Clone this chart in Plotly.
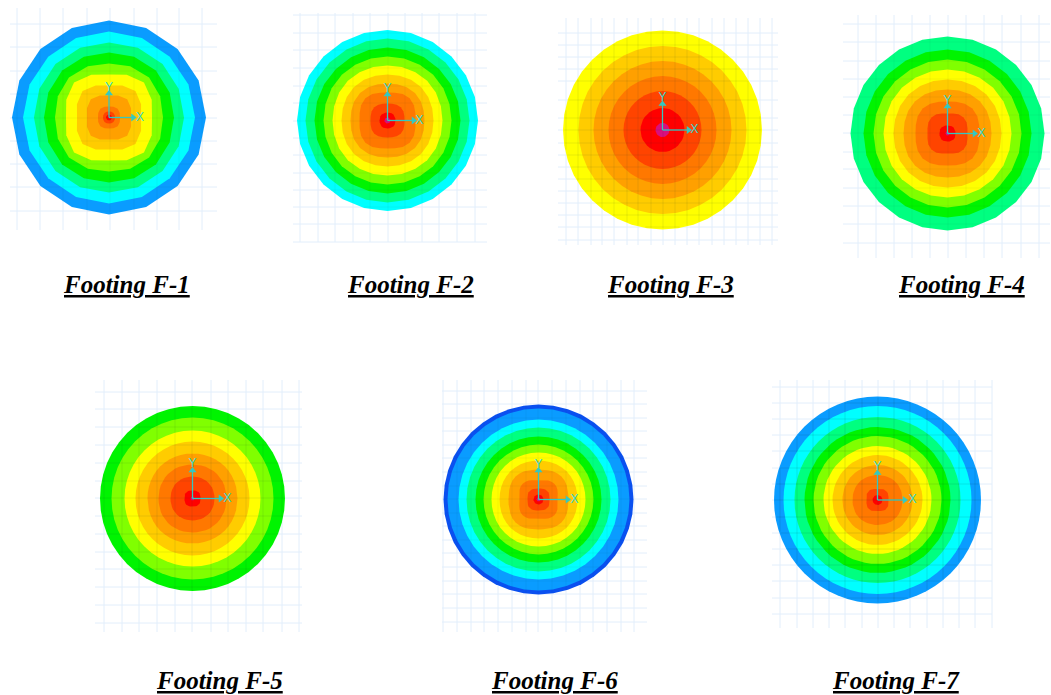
import math
import plotly.graph_objects as go

# ---- data ----
FOOTINGS = ["Footing F-1", "Footing F-2", "Footing F-3", "Footing F-4",
            "Footing F-5", "Footing F-6", "Footing F-7"]

# contour band radii, outermost first
F1_RADII = [97, 86, 75, 65, 54, 43, 32, 22, 11, 6, 3]
F2_RADII = [90.5, 82, 73, 64, 55, 46, 37, 28, 17, 8, 3]
F3_RADII = [99.5, 84, 69, 54, 39, 22, 7]
F4_RADII = [97, 84, 74, 64, 54, 44, 32, 20, 8, 2]
F5_RADII = [92.5, 81, 68, 57, 45, 34, 22, 8, 2]
F6_RADII = [95, 91, 80, 72, 63, 55, 47, 39, 30, 19, 11, 5, 2]
F7_RADII = [103.5, 94, 83, 73, 64, 54, 45, 35, 25, 11, 5]

# how far each band bulges toward the corners
F1_SQUARE = [0, 0, .01, .02, .05, .15, .17, .17, .12, .05, 0]
F2_SQUARE = [0, 0, 0, .01, .02, .03, .05, .12, .10, .05, 0]
F3_SQUARE = [0, 0, 0, 0, 0, 0, 0]
F4_SQUARE = [0, 0, 0, .01, .02, .04, .10, .14, .08, 0]
F5_SQUARE = [0, 0, 0, 0, .01, .02, .02, .10, 0]
F6_SQUARE = [0, 0, 0, 0, 0, 0, .01, .02, .08, .18, .12, 0, 0]
F7_SQUARE = [0, 0, 0, 0, 0, 0, 0, .01, .02, .14, 0]

# colours of the bands
BLUE, CYAN, SPRING, GREEN, LIME = "#0a9cff", "#00ffff", "#00ff80", "#00f400", "#80ff00"
YELLOW, GOLD, ORANGE, DARKOR, REDOR, RED, MAG, DEEP = (
    "#ffff00", "#ffcc00", "#ffa000", "#ff7800", "#ff4400", "#ff0000", "#d8107e", "#0a50f0")
F1_COLORS = [BLUE, CYAN, SPRING, GREEN, LIME, YELLOW, GOLD, ORANGE, DARKOR, REDOR, RED]
F2_COLORS = [CYAN, SPRING, GREEN, LIME, YELLOW, GOLD, ORANGE, DARKOR, REDOR, RED, MAG]
F3_COLORS = [YELLOW, GOLD, ORANGE, DARKOR, REDOR, RED, MAG]
F4_COLORS = [SPRING, GREEN, LIME, YELLOW, GOLD, ORANGE, DARKOR, REDOR, RED, MAG]
F5_COLORS = [GREEN, LIME, YELLOW, GOLD, ORANGE, DARKOR, REDOR, RED, MAG]
F6_COLORS = [DEEP, BLUE, CYAN, SPRING, GREEN, LIME, YELLOW, GOLD, ORANGE, DARKOR, REDOR, RED, MAG]
F7_COLORS = [BLUE, CYAN, SPRING, GREEN, LIME, YELLOW, GOLD, ORANGE, DARKOR, REDOR, RED]

# mesh lines
F1_V = [17, 40, 63, 87, 110, 134, 157, 179, 202]
F1_H = [24, 47, 71, 94, 118, 141, 164, 187, 211]
F2_V = [300, 318, 335, 353, 370, 388, 405, 422, 439, 457, 475]
F2_H = [15, 33, 50, 68, 86, 103, 121, 138, 155, 173, 190, 207, 224, 242]
F3_V = [566, 578, 591, 602, 614, 627, 638, 651, 663, 675, 687, 699, 712, 724, 736, 748, 760, 772]
F3_H = [33, 45, 57, 69, 81, 100, 118, 130, 143, 155, 167, 179, 191, 203, 215, 227, 240]
F4_V = [858, 876, 894, 912, 930, 948, 966, 984, 1002, 1021, 1039]
F4_H = [24, 42, 61, 79, 97, 115, 133, 152, 169, 188, 206, 224, 243]
F5_V = [104, 122, 139, 157, 175, 192, 211, 228, 246, 263, 282, 299]
F5_H = [392, 409, 427, 445, 463, 481, 498, 516, 534, 552, 569, 587, 605, 623]
F6_V = [443, 457, 471, 484, 498, 512, 526, 538, 552, 566, 580, 593, 607, 621, 634]
F6_H = [391, 404, 418, 431, 445, 458, 472, 486, 499, 513, 526, 540, 553, 567, 581, 594, 608, 622]
F7_V = [780, 797, 813, 829, 845, 862, 878, 894, 910, 927, 943, 959, 975, 992]
F7_H = [387, 403, 419, 435, 451, 468, 484, 500, 517, 533, 549, 565, 581, 598, 614]

# ---- placement (page pixels) ----
W, H = 1051, 695
PLACE = [
    dict(c=(109, 117.5), n=16, r=F1_RADII, k=F1_SQUARE, col=F1_COLORS, v=F1_V, h=F1_H, xr=(10, 217), yr=(8, 230), ax=(24, 31, 30), lab=(126, 284), a=.05),
    dict(c=(387.5, 120.5), n=24, r=F2_RADII, k=F2_SQUARE, col=F2_COLORS, v=F2_V, h=F2_H, xr=(293, 487), yr=(13, 242), ax=(26, 32, 32), lab=(410, 284), a=.05),
    dict(c=(662.5, 130), n=40, r=F3_RADII, k=F3_SQUARE, col=F3_COLORS, v=F3_V, h=F3_H, xr=(558, 778), yr=(18, 245), ax=(26, 32, 32), lab=(670, 284), a=.09),
    dict(c=(947.5, 133.5), n=24, r=F4_RADII, k=F4_SQUARE, col=F4_COLORS, v=F4_V, h=F4_H, xr=(843, 1050), yr=(15, 258), ax=(27, 34, 33), lab=(961, 284), a=.05),
    dict(c=(192.5, 498.5), n=48, r=F5_RADII, k=F5_SQUARE, col=F5_COLORS, v=F5_V, h=F5_H, xr=(95, 302), yr=(380, 632), ax=(28, 35, 35), lab=(219, 680), a=.09),
    dict(c=(538.5, 499.5), n=40, r=F6_RADII, k=F6_SQUARE, col=F6_COLORS, v=F6_V, h=F6_H, xr=(442, 647), yr=(380, 632), ax=(29, 36, 35), lab=(554, 680), a=.05),
    dict(c=(877.5, 500), n=64, r=F7_RADII, k=F7_SQUARE, col=F7_COLORS, v=F7_V, h=F7_H, xr=(772, 992), yr=(380, 628), ax=(27, 35, 33), lab=(896, 680), a=.11),
]

fig = go.Figure()


def add_lines(xs, ys, color, width=1):
    fig.add_trace(go.Scatter(x=xs, y=ys, mode="lines", line=dict(color=color, width=width),
                             hoverinfo="skip", showlegend=False))


for name, p in zip(FOOTINGS, PLACE):
    cx, cy = p["c"]
    # mesh beneath the disc
    xs, ys = [], []
    for v in p["v"]:
        xs += [v, v, None]
        ys += [p["yr"][0], p["yr"][1], None]
    for h in p["h"]:
        xs += [p["xr"][0], p["xr"][1], None]
        ys += [h, h, None]
    add_lines(xs, ys, "#e2eefb")

    # contour bands
    for rad, k, col in zip(p["r"], p["k"], p["col"]):
        px, py = [], []
        for i in range(p["n"] + 1):
            t = 2 * math.pi * i / p["n"]
            rr = rad * (1 + k * math.sin(2 * t) ** 2)
            px.append(cx + rr * math.cos(t))
            py.append(cy + rr * math.sin(t))
        fig.add_trace(go.Scatter(x=px, y=py, mode="lines", fill="toself", fillcolor=col,
                                 line=dict(width=0, color=col), hoverinfo="skip", showlegend=False))

    # mesh showing faintly through the disc
    R = p["r"][0] - 1
    xs, ys = [], []
    for v in p["v"]:
        d = v - cx
        if abs(d) < R:
            s = math.sqrt(R * R - d * d)
            xs += [v, v, None]
            ys += [cy - s, cy + s, None]
    for h in p["h"]:
        d = h - cy
        if abs(d) < R:
            s = math.sqrt(R * R - d * d)
            xs += [cx - s, cx + s, None]
            ys += [h, h, None]
    add_lines(xs, ys, f"rgba(0,40,40,{p['a']})")

    # local axes
    a, lx, ly = p["ax"]
    add_lines([cx, cx + a, None, cx, cx], [cy, cy, None, cy, cy - a], "#35c8c0", 1.3)
    fig.add_trace(go.Scatter(
        x=[cx + a, cx], y=[cy, cy - a], mode="markers",
        marker=dict(symbol=["triangle-right", "triangle-up"], size=7, color="#35c8c0"),
        hoverinfo="skip", showlegend=False))
    fig.add_trace(go.Scatter(
        x=[cx + lx, cx], y=[cy, cy - ly], mode="text", text=["X", "Y"],
        textposition="middle center",
        textfont=dict(family="Liberation Sans", size=12, color="#35d8d0"),
        hoverinfo="skip", showlegend=False))

    fig.add_annotation(
        x=p["lab"][0], y=p["lab"][1], text=name, showarrow=False,
        xanchor="center", yanchor="middle",
        font=dict(family="Liberation Serif", size=25, color="#000000",
                  weight="bold", style="italic", lineposition="under"))

fig.update_layout(
    width=W, height=H, margin=dict(l=0, r=0, t=0, b=0),
    paper_bgcolor="#ffffff", plot_bgcolor="#ffffff", showlegend=False,
    xaxis=dict(range=[0, W], visible=False, fixedrange=True),
    yaxis=dict(range=[H, 0], visible=False, fixedrange=True),
)
fig.write_html("out.html", config=dict(displayModeBar=False),
               post_script="document.body.style.margin='0';document.body.style.overflow='hidden';")
